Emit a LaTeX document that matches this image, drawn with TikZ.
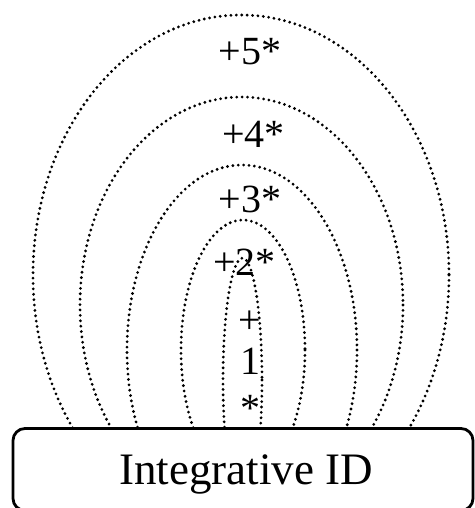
\documentclass[tikz,border=0pt]{standalone}
\usepackage{fontspec}
\setmainfont{Liberation Serif}
\begin{document}
\begin{tikzpicture}[x=1pt,y=-1pt,
  dotline/.style={line width=3.1pt, line cap=round, dash pattern=on 0pt off 5.4pt},
  lbl/.style={inner sep=0pt, anchor=base, font=\fontsize{40}{48}\selectfont},
  boxst/.style={draw, line width=2.8pt, rounded corners=12pt, minimum width=460pt, minimum height=82pt, inner sep=0pt}]
\useasboundingbox (0,0) rectangle (474,508);
\begin{scope}
  \clip (0,0) rectangle (474,428);
  \draw[dotline] (241,275) ellipse [x radius=208, y radius=260];
  \draw[dotline] (241.5,305) ellipse [x radius=161.5, y radius=208];
  \draw[dotline] (242,350) ellipse [x radius=115, y radius=185];
  \draw[dotline] (243,350) ellipse [x radius=62, y radius=130];
  \draw[dotline] (242.5,380) ellipse [x radius=19.5, y radius=122];
\end{scope}
\node[lbl] (l5) at (250,65) {+5*};
\node[lbl] (l4) at (253.5,147) {+4*};
\node[lbl] (l3) at (250,212) {+3*};
\node[lbl] (l2) at (244.5,275) {+2*};
\node[lbl] (l1a) at (250,333) {+};
\node[lbl] (l1b) at (250,374) {1};
\node[lbl] (l1c) at (250,421) {*};
\node[boxst] (box) at (243,469.5) {};
\node[inner sep=0pt, anchor=base, font=\fontsize{45}{54}\selectfont] (title) at (246,484) {Integrative ID};
\end{tikzpicture}
\end{document}
